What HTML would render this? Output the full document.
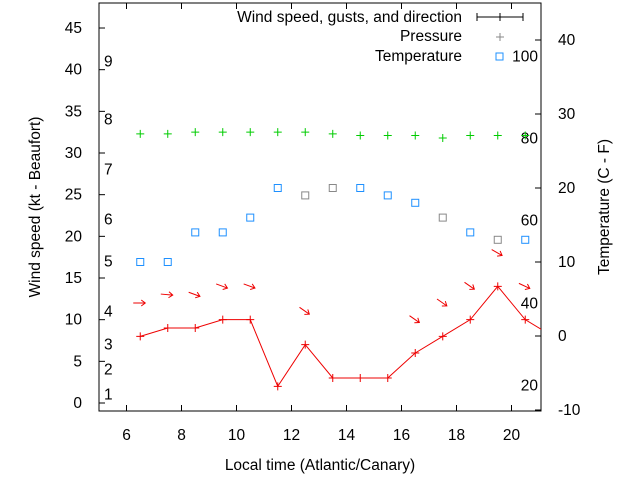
<!DOCTYPE html>
<html><head><meta charset="utf-8"><style>
body{margin:0;background:#fff}
svg{font-family:"Liberation Sans",sans-serif;font-size:15.5px}
</style></head><body>
<svg id="c" width="640" height="480" viewBox="0 0 640 480">
<rect x="99" y="3" width="442" height="408" fill="none" stroke="#000"/>
<g id="axes"></g><g id="marks"></g>
<text x="0" y="0" transform="translate(40,207) rotate(-90)" text-anchor="middle">Wind speed (kt - Beaufort)</text>
<text x="0" y="0" transform="translate(609,207) rotate(-90)" text-anchor="middle">Temperature (C - F)</text>
<text x="320" y="470" text-anchor="middle">Local time (Atlantic/Canary)</text>
<g>
<text x="462" y="22" text-anchor="end">Wind speed, gusts, and direction</text>
<line x1="477" y1="17" x2="523" y2="17" stroke="#000"/><line x1="477" y1="13" x2="477" y2="21" stroke="#000"/><line x1="523" y1="13" x2="523" y2="21" stroke="#000"/><path d="M496 17h8M500 13v8" stroke="#000"/>
<text x="462" y="41" text-anchor="end">Pressure</text>
<path d="M496 37h8M500 33v8" stroke="#888"/>
<text x="462" y="61" text-anchor="end">Temperature</text>
<rect x="496" y="53" width="7" height="7" fill="none" stroke="#1e90ff"/>
</g>
</svg>
<script>
const xTicks=[6,8,10,12,14,16,18,20];
const yTicks=[0,5,10,15,20,25,30,35,40,45];
const tTicks=[-10,0,10,20,30,40];
const beaufortLabels=["1","2","3","4","5","6","7","8","9"];
const beaufortKt=[1,4,7,11,17,22,28,34,41];
const fahrLabels=["20","40","60","80","100"];
const fahrC=[-6.7,4.4,15.6,26.7,37.8];
const hours=[6.5,7.5,8.5,9.5,10.5,11.5,12.5,13.5,14.5,15.5,16.5,17.5,18.5,19.5,20.5,21.5];
const wind=[8,9,9,10,10,2,7,3,3,3,6,8,10,14,10,8];
const pHours=[6.5,7.5,8.5,9.5,10.5,11.5,12.5,13.5,14.5,15.5,16.5,17.5,18.5,19.5,20.5];
const pressure=[32.3,32.3,32.5,32.5,32.5,32.5,32.5,32.3,32.1,32.1,32.1,31.8,32.1,32.1,32.1];
const temps=[10,10,14,14,16,20,19,20,20,19,18,16,14,13,13];
const tempGray=[0,0,0,0,0,0,1,1,0,0,0,1,0,1,0];
const arrowHours=[6.5,7.5,8.5,9.5,10.5,12.5,16.5,17.5,18.5,19.5,20.5];
const gusts=[12,13,13,14,14,11,10,12,14,18,14];
const dirDeg=[0,5,20,20,20,35,35,35,35,30,25];
const X=h=>99+(h-5)*27.5, Y=v=>403-v*8.333, T=c=>336-c*7.4;
const NS="http://www.w3.org/2000/svg";
function mk(t,a,p){const e=document.createElementNS(NS,t);for(const k in a)e.setAttribute(k,a[k]);p.appendChild(e);return e;}
const ax=document.getElementById('axes'),mg=document.getElementById('marks');
xTicks.forEach(h=>{const x=X(h);mk('line',{x1:x,y1:411,x2:x,y2:405,stroke:'#000'},ax);mk('line',{x1:x,y1:3,x2:x,y2:9,stroke:'#000'},ax);
const t=mk('text',{x:x,y:440,'text-anchor':'middle'},ax);t.textContent=h;

});
yTicks.forEach(v=>{const y=Y(v);mk('line',{x1:99,y1:y,x2:105,y2:y,stroke:'#000'},ax);
const t=mk('text',{x:82,y:y+5,'text-anchor':'end'},ax);t.textContent=v;

});
tTicks.forEach(v=>{const y=T(v);mk('line',{x1:535,y1:y,x2:541,y2:y,stroke:'#000'},ax);
const t=mk('text',{x:558,y:y+5},ax);t.textContent=v;

});
beaufortLabels.forEach((s,i)=>{const t=mk('text',{x:104,y:Y(beaufortKt[i])+5},ax);t.textContent=s;

});
fahrLabels.forEach((s,i)=>{const t=mk('text',{x:538,y:T(fahrC[i])+5,'text-anchor':'end'},ax);t.textContent=s;

});
const clip=mk('clipPath',{id:'cp'},mg);mk('rect',{x:99,y:3,width:442,height:408},clip);
const pl=mk('polyline',{points:hours.map((h,i)=>X(h)+','+Y(wind[i])).join(' '),fill:'none',stroke:'#e00','clip-path':'url(#cp)'},mg);


hours.forEach((h,i)=>{if(h>21)return;const x=X(h),y=Y(wind[i]);
const p=mk('path',{d:`M${x-4} ${y}h8M${x} ${y-4}v8`,stroke:'#e00'},mg);

});
pHours.forEach((h,i)=>{const x=X(h),y=Y(pressure[i]);
const p=mk('path',{d:`M${x-4} ${y}h8M${x} ${y-4}v8`,stroke:'#0c0'},mg);

});
pHours.forEach((h,i)=>{const x=X(h),y=T(temps[i]);
const r=mk('rect',{x:x-3.5,y:y-3.5,width:7,height:7,fill:'none',stroke:tempGray[i]?'#888':'#1e90ff'},mg);

});
arrowHours.forEach((h,i)=>{const x=X(h),y=Y(gusts[i]);
const g=mk('g',{transform:`translate(${x},${y}) rotate(${dirDeg[i]})`},mg);
mk('path',{d:'M-7 0H5M1 -3L5 0L1 3',fill:'none',stroke:'#e00'},g);

});
</script>
</body></html>
